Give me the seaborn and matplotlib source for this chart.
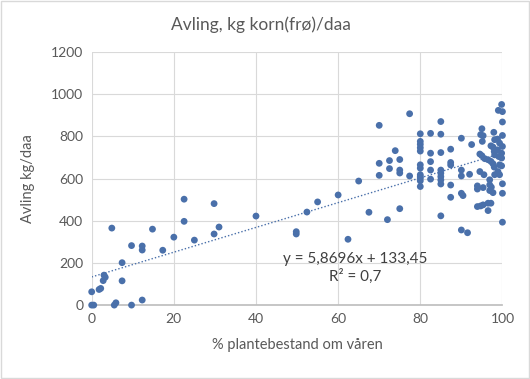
import numpy as np
import pandas as pd
import matplotlib
matplotlib.use("Agg")
import matplotlib.pyplot as plt
import seaborn as sns

# --- Data ---
plant_pct = [
    0, 0.5, 0, 1.8, 2.2, 2.8, 3.0, 3.3, 4.9, 5.5, 5.9, 7.4, 7.4, 9.7, 9.7,
    12.3, 12.3, 12.3, 14.8, 17.3, 20, 22.5, 22.5, 25, 29.8, 29.8, 31, 40,
    49.8, 49.8, 52.4, 55, 60, 62.4,
    65, 67.5, 70, 70, 70, 72, 72.5, 72.5, 73.9, 75, 75, 75, 75, 77.4, 77.4,
    80, 80, 80, 80, 80, 80, 80, 80, 80, 80, 80, 80,
    82.5, 82.5, 82.5, 82.5, 82.5,
    85, 85, 85, 85, 85, 85, 85, 85, 85,
    87.4, 87.4, 87.4, 87.4, 87.4,
    90, 90, 90, 90, 90.4, 90, 91.5, 92, 92.5,
    95, 94.7, 95.3, 97.9, 100, 95.1, 98.1, 98.8, 97.2, 97.7, 99.3, 100,
    94.5, 95, 95.7, 96.5, 98, 98.8, 99.8, 98.1, 99.1, 99.8, 97.2, 97.7, 99.3,
    99.8, 99, 100, 100,
    94.5, 95.5, 98, 98.9, 98.1, 99.3, 96.9, 99.8, 100, 93.9, 93.9, 95.3,
    96.9, 97.3, 97.7, 96.9, 100, 93.9, 94.7, 95.3, 96.5, 97.2, 96.5, 100,
]
yield_kg = [
    0, 0, 63, 74, 79, 116, 142, 132, 365, 0, 11, 201, 115, 0, 282,
    24, 280, 261, 360, 260, 322, 502, 397, 308, 481, 337, 370, 422,
    348, 337, 441, 489, 522, 312,
    588, 440, 852, 672, 615, 405, 685, 647, 732, 690, 640, 626, 457, 907, 612,
    812, 776, 762, 746, 730, 665, 649, 618, 609, 602, 589, 562,
    814, 720, 680, 640, 597,
    870, 810, 723, 640, 625, 609, 593, 574, 423,
    739, 676, 664, 569, 511,
    791, 640, 612, 530, 519, 356, 343, 620, 761,
    836, 808, 803, 819, 804, 776, 784, 787, 755, 749, 768, 752,
    716, 708, 694, 689, 728, 736, 720, 712, 704, 697, 681, 670, 665,
    951, 923, 917, 868,
    633, 618, 654, 633, 618, 618, 594, 660, 575, 565, 550, 557,
    570, 559, 533, 543, 530, 467, 470, 475, 483, 483, 448, 393,
]

# linear trendline as printed on the chart
slope = 5.8696
intercept = 133.45
trend_x = [0, 100]
eq_text = "y = 5,8696x + 133,45\nR² = 0,7"

x_ticks = [0, 20, 40, 60, 80, 100]
y_ticks = [0, 200, 400, 600, 800, 1000, 1200]

df = pd.DataFrame({"plant": plant_pct, "yield": yield_kg})
trend = pd.DataFrame({"x": trend_x, "y": [slope * v + intercept for v in trend_x]})

sns.set_theme(style="white")
plt.rcParams["font.family"] = ["Lato", "DejaVu Sans"]

blue = "#4A70AA"
grey_txt = "#595959"
grid_col = "#D9D9D9"

fig = plt.figure(figsize=(5.3, 3.79), dpi=100)
ax = fig.add_axes([0.173, 0.195, 0.775, 0.668])

sns.lineplot(data=trend, x="x", y="y", ax=ax, color=blue, lw=1.0,
             linestyle=(0, (1, 1.5)), zorder=2)
pts = sns.scatterplot(data=df, x="plant", y="yield", ax=ax, color=blue,
                      s=24, edgecolor="none", zorder=3)
for c in ax.collections:
    c.set_clip_on(False)

ax.set_xlim(0, 100)
ax.set_ylim(0, 1200)
ax.set_xticks(x_ticks)
ax.set_yticks(y_ticks)
ax.grid(True, color=grid_col, lw=0.8)
ax.set_axisbelow(True)
for s in ["top", "right", "left"]:
    ax.spines[s].set_visible(False)
ax.spines["bottom"].set_color("#BFBFBF")
ax.tick_params(length=0, labelsize=10, labelcolor=grey_txt, pad=6)

ax.set_xlabel("% plantebestand om våren", fontsize=10.5, color=grey_txt)
ax.set_ylabel("Avling kg/daa", fontsize=10.5, color=grey_txt)
ax.xaxis.set_label_coords(0.5, -0.158)
ax.xaxis.label.set_va("center")
ax.yaxis.set_label_coords(-0.155, 0.5)
ax.yaxis.label.set_va("center")

ax.text(64.1, 176, eq_text, ha="center", va="center", fontsize=11,
        color="#404040", linespacing=1.3)

fig.text(0.493, 0.934, "Avling, kg korn(frø)/daa", ha="center", va="center",
         fontsize=12.5, color=grey_txt)

fig.patches.append(plt.Rectangle((0.002, 0.002), 0.996, 0.995, fill=False,
                                 edgecolor=grid_col, lw=1,
                                 transform=fig.transFigure, figure=fig))

fig.savefig("out.png", dpi=100)
